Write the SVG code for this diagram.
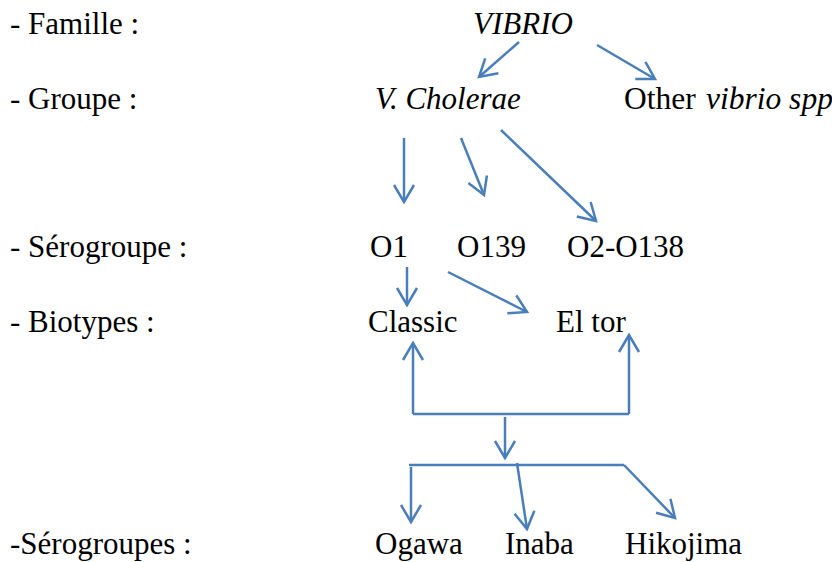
<svg xmlns="http://www.w3.org/2000/svg" width="832" height="562" viewBox="0 0 832 562">
<style>
text{font-family:"Liberation Serif","Times New Roman",serif;font-size:31px;fill:#000}
.i{font-style:italic}
.c line,.c polyline{stroke:#4A7EBB;stroke-width:2.5;fill:none}
.a{marker-end:url(#h)}
</style>
<defs>
<marker id="h" markerUnits="userSpaceOnUse" markerWidth="40" markerHeight="40" viewBox="-20 -20 40 40" refX="0" refY="0" orient="auto">
<path d="M-17,-10 L0,0 L-17,10" fill="none" stroke="#4A7EBB" stroke-width="2.5"/>
</marker>
</defs>
<rect width="832" height="562" fill="#fff"/>
<g id="labels">
<text x="10" y="34">- Famille :</text>
<text x="10" y="109">- Groupe :</text>
<text x="10" y="257">- Sérogroupe :</text>
<text x="10" y="332">- Biotypes :</text>
<text x="10" y="554">-Sérogroupes :</text>
</g>
<g id="vibrio"><text x="473" y="34" class="i">VIBRIO</text></g>
<g id="cholerae"><text x="375" y="109" class="i">V. Cholerae</text></g>
<g id="other"><text x="624" y="109" style="font-size:31.5px">Other <tspan class="i" x="706">vibrio spp</tspan></text></g>
<g id="o1"><text x="370" y="257">O1</text></g>
<g id="o139"><text x="457" y="257">O139</text></g>
<g id="o2o138"><text x="567" y="257">O2-O138</text></g>
<g id="classic"><text x="368" y="332">Classic</text></g>
<g id="eltor"><text x="556" y="332">El tor</text></g>
<g id="ogawa"><text x="375" y="554">Ogawa</text></g>
<g id="inaba"><text x="505" y="554">Inaba</text></g>
<g id="hikojima"><text x="625" y="554">Hikojima</text></g>
<g id="connectors" class="c">
<line class="a" x1="519" y1="42" x2="479" y2="77"/>
<line class="a" x1="597" y1="45" x2="655" y2="79"/>
<line class="a" x1="404" y1="138" x2="404" y2="202"/>
<line class="a" x1="461" y1="138" x2="484" y2="195"/>
<line class="a" x1="501" y1="130" x2="596" y2="221"/>
<line class="a" x1="407" y1="267" x2="407" y2="305"/>
<line class="a" x1="448" y1="272" x2="527" y2="312"/>
<line class="a" x1="413" y1="414" x2="413" y2="343"/>
<line x1="413" y1="414" x2="629" y2="414"/>
<line class="a" x1="629" y1="414" x2="629" y2="335"/>
<line class="a" x1="505" y1="417" x2="505" y2="458"/>
<line x1="409" y1="465" x2="624" y2="465"/>
<line class="a" x1="411" y1="467" x2="411" y2="522"/>
<line class="a" x1="517" y1="463" x2="527" y2="529"/>
<line class="a" x1="624" y1="465" x2="675" y2="518"/>
</g>
</svg>
